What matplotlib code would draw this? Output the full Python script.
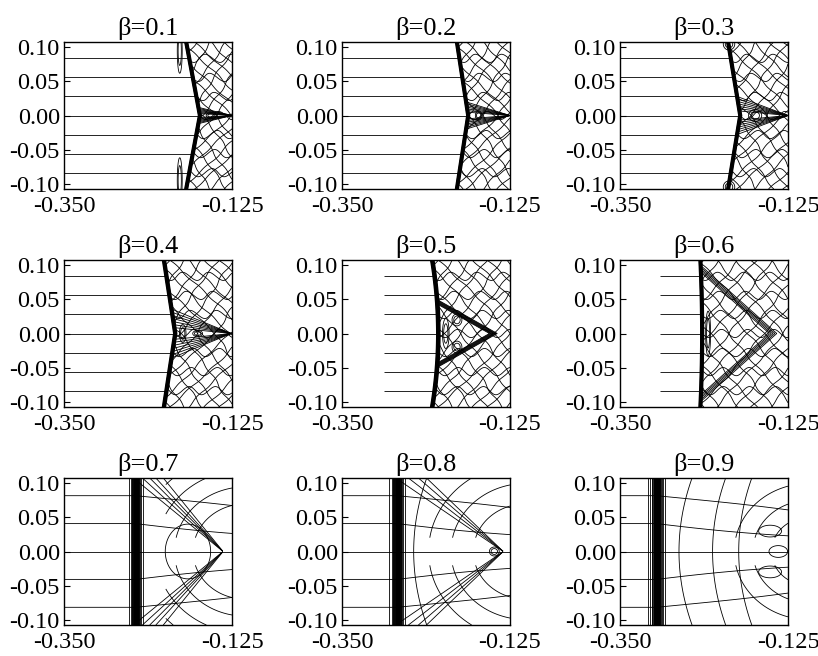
import matplotlib

matplotlib.use("Agg")

import matplotlib.pyplot as plt
import numpy as np

plt.rcParams["font.family"] = ["Liberation Serif", "DejaVu Serif"]
plt.rcParams["axes.unicode_minus"] = False

betas = [0.1, 0.2, 0.3, 0.4, 0.5, 0.6, 0.7, 0.8, 0.9]

# front position: x at the top/bottom edge and at y = 0
front_edge_x = [-0.185, -0.195, -0.204, -0.215, -0.228, -0.242, -0.254, -0.276, -0.301]
front_mid_x = [-0.168, -0.181, -0.189, -0.201, -0.221, -0.240, -0.254, -0.276, -0.301]
front_width = [0.0012, 0.0012, 0.0012, 0.0013, 0.0014, 0.0012, 0.0045, 0.0050, 0.0055]

# cone behind the front: apex x and half-opening where it meets the front
cone_tip_x = [-0.125, -0.125, -0.125, -0.126, -0.142, -0.140, -0.137, -0.134, -0.127]
cone_half_y = [0.012, 0.020, 0.028, 0.036, 0.050, 0.100, 0.100, 0.100, 0.060]
cone_slopes = [[], [], [], [], [], [],
               [0.9, 1.0, 1.1, 1.2, 1.35],
               [0.75, 0.85, 0.95, 1.05],
               []]

# upstream flow lines
upstream_start_x = [-0.35, -0.35, -0.35, -0.35, -0.294, -0.296, -0.35, -0.35, -0.35]
upstream_levels_shock = [-0.084, -0.056, -0.028, 0.0, 0.028, 0.056, 0.084]
upstream_levels_wide = [-0.082, -0.041, 0.0, 0.041, 0.082]

# downstream wave pattern
wave_spacing = [0.019, 0.020, 0.021, 0.022, 0.022, 0.024, 0.030, 0.034, 0.040]
wave_amp = [0.003, 0.003, 0.003, 0.003, 0.003, 0.003, 0.006, 0.006, 0.006]
arc_levels = [[], [], [], [], [], [],
              [0.07, 0.095, 0.12, 0.145],
              [0.07, 0.1, 0.13],
              [0.05, 0.075, 0.1]]
bow_levels = [[], [], [], [], [], [], [], [0.022], [0.03, 0.075, 0.11]]

# closed contours: (x offset from front at y=0, y, x width, y width)
blobs = [
    [(-0.027, 0.095, 0.003, 0.03), (-0.027, -0.095, 0.003, 0.03), (0.015, 0.0, 0.006, 0.004)],
    [(0.014, 0.0, 0.004, 0.006)],
    [(-0.015, 0.105, 0.007, 0.008), (-0.015, -0.105, 0.007, 0.008), (0.02, 0.0, 0.008, 0.008)],
    [(0.03, 0.0, 0.006, 0.004), (0.01, 0.0, 0.004, 0.012)],
    [(0.01, 0.0, 0.004, 0.02), (0.025, 0.02, 0.006, 0.008), (0.025, -0.02, 0.006, 0.008)],
    [(0.008, 0.0, 0.003, 0.03)],
    [(0.07, 0.0, 0.034, 0.045)],
    [(0.13, 0.0, 0.006, 0.006)],
    [(0.163, 0.0, 0.013, 0.009), (0.152, 0.03, 0.016, 0.009), (0.152, -0.03, 0.016, 0.009)],
]
blob_levels = [[0.3, 0.6]] * 6 + [[0.45], [0.3, 0.6], [0.4]]

X, Y = np.meshgrid(np.linspace(-0.35, -0.125, 600), np.linspace(-0.108, 0.108, 560))
LW = 0.6
KW = dict(colors="k", linewidths=LW, linestyles="solid")


def front_x(i, yy):
    p = 1.0 if i < 4 else 2.0
    return front_mid_x[i] + (front_edge_x[i] - front_mid_x[i]) * (np.abs(yy) / 0.1) ** p


def draw_panel(ax, i):
    d = X - front_x(i, Y)
    tip = cone_tip_x[i]
    amp = wave_amp[i]
    down = d > 0.002

    # the front itself
    if i < 6:
        ax.contour(X, Y, np.tanh(d / front_width[i]), levels=np.linspace(-0.9, 0.9, 11),
                   colors="k", linewidths=1.1, linestyles="solid")
    else:
        ax.contour(X, Y, np.tanh(d / front_width[i]), levels=np.linspace(-0.97, 0.97, 30), **KW)

    if i < 6:
        lev = np.array(upstream_levels_shock)
        ax.hlines(lev, upstream_start_x[i], front_x(i, lev), colors="k", linewidth=LW)

        wig = amp * np.sin(2 * np.pi * Y / 0.05) * np.cos(2 * np.pi * d / 0.07)
        a = np.ma.masked_where(~down, d + 0.8 * Y + wig)
        b = np.ma.masked_where(~down, d - 0.8 * Y - wig)
        h = np.ma.masked_where(~down, Y + 2 * amp * np.sin(2 * np.pi * d / 0.035 + 8 * Y))
        steps = np.arange(-0.3, 0.3, wave_spacing[i])
        ax.contour(X, Y, a, levels=steps, **KW)
        ax.contour(X, Y, b, levels=steps, **KW)
        ax.contour(X, Y, h, levels=upstream_levels_shock, **KW)

        half = cone_half_y[i]
        if i < 4:
            k = half / (tip - front_x(i, half))
            ray = np.ma.masked_where(~down | (X >= tip - 1e-4), Y / (tip - X + 1e-9))
            ks = np.linspace(0.25, 1.0, 7) * k
            ax.contour(X, Y, ray, levels=np.sort(np.concatenate([-ks, ks])), **KW)
        else:
            slope = (tip - front_x(i, half)) / half
            chev = np.ma.masked_where(~down, (tip - X) - np.abs(Y) * slope)
            step = 0.0015 if i == 4 else 0.0025
            ax.contour(X, Y, chev, levels=np.arange(5) * step if i == 5 else np.arange(8) * step, **KW)
    else:
        dd = np.clip(d, 0, None)
        h = Y * (1 + 2.0 * dd) + amp * dd * 10 * np.sin(2 * np.pi * Y / 0.12)
        ax.contour(X, Y, h, levels=upstream_levels_wide, **KW)

        far = np.ma.masked_where((d < 0.04) | (np.abs(Y) < 0.02), np.hypot(X - tip - 0.03, Y))
        ax.contour(X, Y, far, levels=arc_levels[i], **KW)

        if cone_slopes[i]:
            ray = np.ma.masked_where(~down | (X >= tip - 1e-4), Y / (tip - X + 1e-9))
            ks = np.array(cone_slopes[i])
            ax.contour(X, Y, ray, levels=np.concatenate([-ks[::-1], ks]), **KW)

        if bow_levels[i]:
            bow = np.ma.masked_where(~down, d - 1.5 * Y**2)
            ax.contour(X, Y, bow, levels=bow_levels[i], **KW)

    g = np.zeros_like(X)
    for dx, cy, sx, sy in blobs[i]:
        g += np.exp(-(((X - front_mid_x[i] - dx) / sx) ** 2) - ((Y - cy) / sy) ** 2)
    ax.contour(X, Y, g, levels=blob_levels[i], **KW)

    ax.set_xlim(-0.35, -0.125)
    ax.set_ylim(-0.108, 0.108)
    ax.set_xticks([-0.35, -0.125])
    ax.set_xticklabels(["-0.350", "-0.125"])
    ax.set_yticks([-0.1, -0.05, 0.0, 0.05, 0.1])
    ax.set_yticklabels([f"{v:.2f}" for v in [-0.1, -0.05, 0.0, 0.05, 0.1]])
    ax.tick_params(axis="y", direction="in", length=4, width=0.8, labelsize=17.5, pad=3)
    ax.tick_params(axis="x", length=0, labelsize=17.5, pad=5)
    for s in ax.spines.values():
        s.set_linewidth(1.0)
    ax.set_title(f"β={betas[i]}", fontsize=19, pad=5)


fig = plt.figure(figsize=(8.18, 6.56), dpi=100)
lefts = [64, 342, 620]
tops = [42, 260, 478]
for i in range(9):
    r, c = divmod(i, 3)
    ax = fig.add_axes([lefts[c] / 818, 1 - (tops[r] + 147) / 656, 168 / 818, 147 / 656])
    draw_panel(ax, i)

fig.savefig("out.png", dpi=100)
